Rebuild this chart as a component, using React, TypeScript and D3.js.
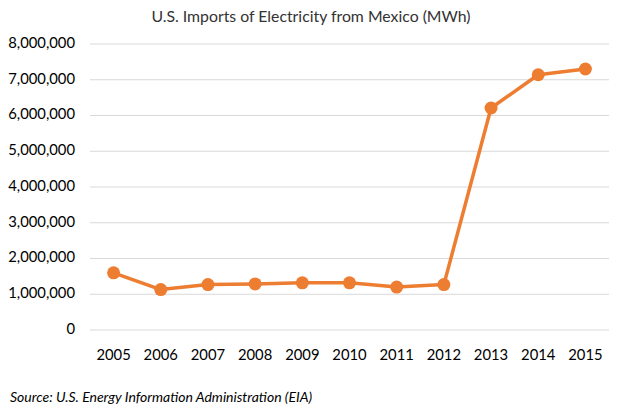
import { useMemo } from 'react';
import * as d3 from 'd3';

const years = ['2005', '2006', '2007', '2008', '2009', '2010', '2011', '2012', '2013', '2014', '2015'];
const imports = [1600000, 1130000, 1270000, 1290000, 1320000, 1320000, 1200000, 1270000, 6210000, 7140000, 7300000];
const yTicks = [0, 1000000, 2000000, 3000000, 4000000, 5000000, 6000000, 7000000, 8000000];

const W = 619;
const H = 416;
const LINE_COLOR = '#ED7D31';
const FONT = 'Lato, "Open Sans", sans-serif';

export default function App() {
  const margin = { top: 44, right: 10, bottom: 86, left: 90 };

  const x = useMemo(
    () => d3.scaleBand<string>().domain(years).range([margin.left, W - margin.right]).padding(0),
    []
  );
  const y = useMemo(
    () => d3.scaleLinear().domain([0, 8000000]).range([H - margin.bottom, margin.top]),
    []
  );

  const fmt = d3.format(',');
  const cx = (yr: string) => (x(yr) ?? 0) + x.bandwidth() / 2;

  const line = d3
    .line<number>()
    .x((_, i) => cx(years[i]))
    .y((d) => y(d));

  return (
    <div style={{ position: 'fixed', left: 0, top: 0 }}>
      <svg width={W} height={H} style={{ display: 'block', background: '#fff' }} fontFamily={FONT}>
        {/* title */}
        <text x={311} y={18} textAnchor="middle" dominantBaseline="middle" fontSize={15.8} fill="#333">
          U.S. Imports of Electricity from Mexico (MWh)
        </text>

        {/* gridlines + y labels */}
        {yTicks.map((t) => (
          <g key={t}>
            <line x1={margin.left} x2={W - margin.right} y1={y(t)} y2={y(t)} stroke="#d9d9d9" strokeWidth={1} />
            <text x={75} y={y(t)} textAnchor="end" dominantBaseline="middle" fontSize={14.8} fill="#000">
              {fmt(t)}
            </text>
          </g>
        ))}

        {/* x labels */}
        {years.map((yr) => (
          <text key={yr} x={cx(yr)} y={356} textAnchor="middle" dominantBaseline="middle" fontSize={14.8} fill="#000">
            {yr}
          </text>
        ))}

        {/* series */}
        <path d={line(imports) ?? ''} fill="none" stroke={LINE_COLOR} strokeWidth={3.5} strokeLinejoin="round" />
        {imports.map((v, i) => (
          <circle key={years[i]} cx={cx(years[i])} cy={y(v)} r={6.5} fill={LINE_COLOR} />
        ))}

        {/* source */}
        <text x={10} y={398} dominantBaseline="middle" fontSize={14} fontStyle="italic" fill="#000">
          Source: U.S. Energy Information Administration (EIA)
        </text>
      </svg>
    </div>
  );
}
